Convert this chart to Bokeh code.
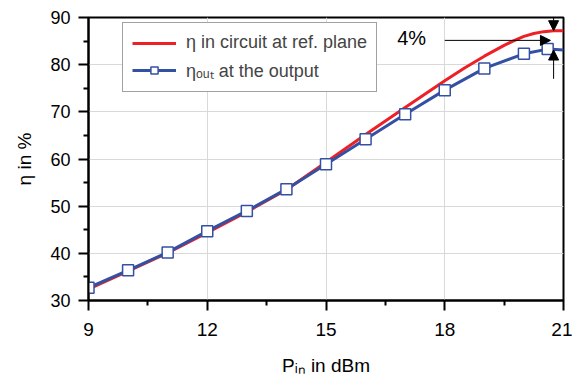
from bokeh.plotting import figure
from bokeh.models import (FixedTicker, Legend, LegendItem, Label, Arrow, NormalHead, Range1d)
from bokeh.embed import file_html
from bokeh.resources import INLINE

# ---- data ----
red_x = [9, 10, 11, 12, 13, 14, 15, 16, 17, 18, 18.5, 19, 19.5, 19.75, 20, 20.25, 20.5, 20.75, 21]
red_eta = [32.4, 36.2, 40.1, 44.4, 48.8, 53.5, 59.3, 65.2, 70.9, 76.6, 79.3, 81.8, 84.1,
           85.1, 86.0, 86.6, 87.0, 87.2, 87.2]

blue_x = [9, 10, 11, 12, 13, 14, 15, 16, 17, 18, 19, 20, 20.6, 21]
blue_eta = [32.7, 36.4, 40.2, 44.7, 49.0, 53.6, 58.9, 64.2, 69.5, 74.6, 79.2, 82.3, 83.3, 83.1]
n_markers = 13  # last point (x=21) has no marker

x_ticks = [9, 12, 15, 18, 21]
x_minor = [10.5, 13.5, 16.5, 19.5]
y_ticks = [30, 40, 50, 60, 70, 80, 90]
y_minor = [35, 45, 55, 65, 75, 85]

legend_labels = ["\u03b7 in circuit at ref. plane", "\u03b7\u2092\u1d64\u209c at the output"]
x_title = "P\u1d62\u2099 in dBm"
y_title = "\u03b7 in %"
annot_text = "4%"

FONT = "Liberation Sans"
RED = "#ee2027"
BLUE = "#3450a2"

p = figure(width=572, height=381, output_backend="svg", toolbar_location=None,
           x_range=Range1d(9, 21), y_range=Range1d(30, 90),
           min_border_left=88, min_border_right=9, min_border_top=17, min_border_bottom=81)
p.background_fill_color = "white"
p.border_fill_color = "white"
p.outline_line_color = "black"
p.outline_line_width = 2

for ax, ticks, minor in ((p.xaxis[0], x_ticks, x_minor), (p.yaxis[0], y_ticks, y_minor)):
    ax.ticker = FixedTicker(ticks=ticks, minor_ticks=minor)
    ax.axis_line_width = 2
    ax.axis_line_color = "black"
    ax.major_tick_line_width = 2
    ax.minor_tick_line_width = 2
    ax.major_tick_line_color = "black"
    ax.minor_tick_line_color = "black"
    ax.major_tick_in = 0
    ax.major_tick_out = 10
    ax.minor_tick_in = 0
    ax.minor_tick_out = 5
    ax.major_label_text_font = FONT
    ax.major_label_text_color = "black"
    ax.axis_label_text_font = FONT
    ax.axis_label_text_font_style = "normal"
    ax.axis_label_text_color = "black"
    ax.axis_label_text_font_size = "19px"

p.xaxis.major_label_text_font_size = "19px"
p.yaxis.major_label_text_font_size = "18px"
p.xaxis.major_label_standoff = 12
p.yaxis.major_label_standoff = 8
p.xaxis.axis_label = x_title
p.yaxis.axis_label = y_title
p.xaxis.axis_label_standoff = 16
p.yaxis.axis_label_standoff = 12

p.xgrid.ticker = FixedTicker(ticks=x_ticks)
p.ygrid.ticker = FixedTicker(ticks=y_ticks)
p.xgrid.grid_line_color = "#d9d9d9"
p.ygrid.grid_line_color = "#d9d9d9"
p.xgrid.grid_line_width = 1
p.ygrid.grid_line_width = 1

r_red = p.line(red_x, red_eta, line_color=RED, line_width=3)
r_blue = p.line(blue_x, blue_eta, line_color=BLUE, line_width=3)
r_sq = p.scatter(blue_x[:n_markers], blue_eta[:n_markers], marker="square", size=11,
                 fill_color="white", line_color=BLUE, line_width=1.5)

legend = Legend(items=[LegendItem(label=legend_labels[0], renderers=[r_red]),
                       LegendItem(label=legend_labels[1], renderers=[r_blue, r_sq])],
                location=(34, 208), padding=9, spacing=5, margin=0,
                glyph_width=44, glyph_height=18, label_height=18, label_standoff=10,
                label_text_font=FONT, label_text_font_size="18px",
                border_line_color="#444444", border_line_width=1,
                background_fill_color="white", background_fill_alpha=1)
p.add_layout(legend, "center")

# annotation: 4% difference between the curves at the end
mid = (red_eta[-1] + blue_eta[-1]) / 2
p.add_layout(Label(x=16.8, y=mid + 0.4, text=annot_text, text_font=FONT, text_font_size="20px",
                   text_baseline="middle", text_color="black"))
p.add_layout(Arrow(end=NormalHead(size=10, fill_color="black", line_color="black"),
                   x_start=18.0, y_start=mid, x_end=20.67, y_end=mid,
                   line_color="black", line_width=1))
p.add_layout(Arrow(end=NormalHead(size=10, fill_color="black", line_color="black"),
                   x_start=20.75, y_start=92.2, x_end=20.75, y_end=red_eta[-1],
                   line_color="black", line_width=1))
p.add_layout(Arrow(end=NormalHead(size=10, fill_color="black", line_color="black"),
                   x_start=20.75, y_start=77.0, x_end=20.75, y_end=blue_eta[-1],
                   line_color="black", line_width=1))

open("out.html", "w").write(file_html(p, INLINE))
